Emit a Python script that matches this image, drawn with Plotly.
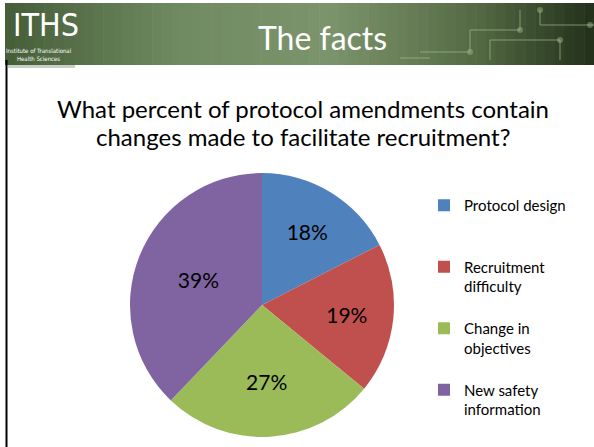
import plotly.graph_objects as go

categories = ["Protocol design", "Recruitment<br>difficulty", "Change in<br>objectives", "New safety<br>information"]
values = [18, 19, 27, 39]
colors = ["#4f81bd", "#c0504d", "#9bbb59", "#8064a2"]

W, H = 594, 447

def py(p):
    return 1 - p / H

def px(p):
    return p / W

# legend labels padded to three lines so items are evenly spaced like the slide
legend_labels = []
for c in categories:
    n = c.count("<br>") + 1
    legend_labels.append(c + "<br>&nbsp;" * (3 - n))

fig = go.Figure()
fig.add_trace(go.Pie(
    labels=legend_labels,
    values=values,
    marker=dict(colors=colors, line=dict(width=0)),
    sort=False,
    direction="clockwise",
    rotation=0,
    texttemplate="%{value}%",
    textposition="inside",
    insidetextorientation="horizontal",
    textfont=dict(family="Lato", size=21, color="#000000"),
    domain=dict(x=[px(262 - 132), px(262 + 132)], y=[py(437), py(173)]),
    hoverinfo="label+value",
))

shapes = []
# banner gradient (green)
def lerp(a, b, t):
    return tuple(int(round(a[i] + (b[i] - a[i]) * t)) for i in range(3))

stops = [(0.0, (70, 94, 56)), (0.3, (112, 138, 98)), (0.55, (124, 148, 108)), (0.8, (84, 106, 68)), (1.0, (34, 48, 26))]
N = 60
x0, x1 = 5, 594
for i in range(N):
    t = (i + 0.5) / N
    for j in range(len(stops) - 1):
        if stops[j][0] <= t <= stops[j + 1][0]:
            tt = (t - stops[j][0]) / (stops[j + 1][0] - stops[j][0])
            col = lerp(stops[j][1], stops[j + 1][1], tt)
            break
    xa = x0 + (x1 - x0) * i / N
    xb = x0 + (x1 - x0) * (i + 1) / N + 0.6
    shapes.append(dict(type="rect", xref="paper", yref="paper",
                       x0=px(xa), x1=px(xb), y0=py(65), y1=py(3),
                       fillcolor="rgb(%d,%d,%d)" % col, line=dict(width=0), layer="below"))

# faint circuit decoration on right
circ = "rgba(160,190,140,0.45)"
for (a, b, c, d) in [(420, 52, 470, 52), (470, 52, 470, 30), (470, 30, 520, 30), (520, 30, 520, 10),
                     (490, 60, 490, 40), (490, 40, 560, 40), (560, 40, 560, 60), (540, 10, 540, 25),
                     (540, 25, 594, 25), (400, 58, 430, 58)]:
    shapes.append(dict(type="line", xref="paper", yref="paper", x0=px(a), y0=py(b), x1=px(c), y1=py(d),
                       line=dict(color=circ, width=1.5)))
for (cx, cy) in [(470, 52), (520, 30), (560, 40), (540, 10), (590, 25)]:
    shapes.append(dict(type="circle", xref="paper", yref="paper", x0=px(cx - 3), x1=px(cx + 3),
                       y0=py(cy + 3), y1=py(cy - 3), fillcolor=circ, line=dict(width=0)))
# light strip under logo
shapes.append(dict(type="rect", xref="paper", yref="paper", x0=px(8), x1=px(75), y0=py(68), y1=py(65),
                   fillcolor="#c8cfc4", line=dict(width=0)))
# left black border
shapes.append(dict(type="line", xref="paper", yref="paper", x0=px(6.5), x1=px(6.5), y0=py(447), y1=py(60),
                   line=dict(color="#000000", width=2)))

annotations = [
    dict(text="ITHS", x=px(11), y=py(25), xref="paper", yref="paper", xanchor="left", yanchor="middle",
         showarrow=False, font=dict(family="DejaVu Sans Condensed, Liberation Sans Narrow", size=32, color="white")),
    dict(text="Institute of Translational<br>Health Sciences", x=px(38), y=py(55), xref="paper", yref="paper",
         xanchor="center", yanchor="middle", showarrow=False, align="center",
         font=dict(family="DejaVu Sans Condensed, Liberation Sans Narrow", size=6, color="white")),
    dict(text="The facts", x=px(322), y=py(38), xref="paper", yref="paper", xanchor="center", yanchor="middle",
         showarrow=False, font=dict(family="Lato", size=32, color="white")),
    dict(text="What percent of protocol amendments contain", x=px(303), y=py(108), xref="paper", yref="paper",
         xanchor="center", yanchor="middle", showarrow=False, font=dict(family="Lato", size=24, color="#000000")),
    dict(text="changes made to facilitate recruitment?", x=px(303), y=py(137), xref="paper", yref="paper",
         xanchor="center", yanchor="middle", showarrow=False, font=dict(family="Lato", size=24, color="#000000")),
]

fig.update_layout(
    width=W, height=H,
    margin=dict(l=0, r=0, t=0, b=0),
    paper_bgcolor="white", plot_bgcolor="white",
    shapes=shapes, annotations=annotations,
    showlegend=True,
    legend=dict(x=px(424), y=py(189), xanchor="left", yanchor="top", valign="top",
                font=dict(family="Lato", size=15, color="#000000"), bgcolor="rgba(0,0,0,0)",
                itemclick=False),
)

fig.write_html("out.html", config={"displayModeBar": False},
               post_script="document.body.style.margin='0';document.body.style.overflow='hidden';")
